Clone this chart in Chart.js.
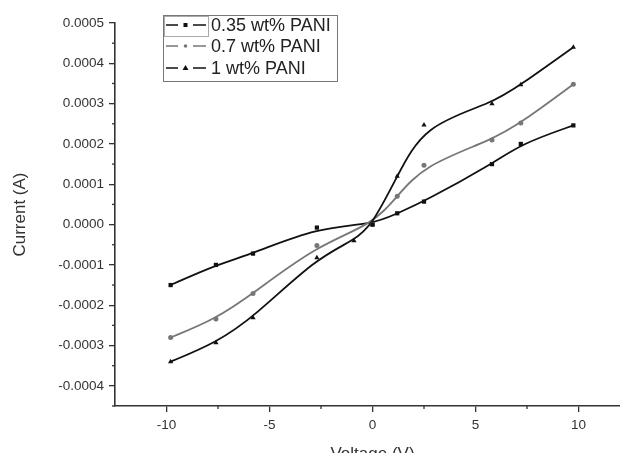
<!DOCTYPE html>
<html lang="en">
<head>
<meta charset="UTF-8">
<title>I-V curves PANI</title>
<script src="https://cdn.jsdelivr.net/npm/chart.js@4/dist/chart.umd.min.js"></script>
<style>
  html, body { margin: 0; padding: 0; background: #fff; overflow: hidden; }
  .wrap { position: relative; width: 640px; height: 453px; }
</style>
</head>
<body>
<div class="wrap"><canvas id="chart"></canvas></div>
<script>
// Data
const labels = ['0.35 wt% PANI', '0.7 wt% PANI', '1 wt% PANI'];

const voltA = [-9.8, -7.6, -5.8, -2.7, 0, 1.2, 2.5, 5.8, 7.2, 9.75];
const currA = [-0.00015, -0.0001, -0.000072, -0.0000075, 0, 0.000028, 0.000057, 0.00015, 0.0002, 0.000246];

const voltB = [-9.8, -7.6, -5.8, -2.7, 0, 1.2, 2.5, 5.8, 7.2, 9.75];
const currB = [-0.00028, -0.000234, -0.000171, -0.000052, 0, 0.00007, 0.000147, 0.00021, 0.000252, 0.000348];

const voltC = [-9.8, -7.6, -5.8, -2.7, -0.9, 0, 1.2, 2.5, 5.8, 7.2, 9.75];
const currC = [-0.00034, -0.000293, -0.000231, -0.000082, -0.00004, 0, 0.00012, 0.000247, 0.0003, 0.000347, 0.00044];

const xTicks = [-10, -5, 0, 5, 10];
const yTicks = [-0.0004, -0.0003, -0.0002, -0.0001, 0, 0.0001, 0.0002, 0.0003, 0.0004, 0.0005];

const colors = ['#111', '#777', '#111'];
const markers = ['rect', 'circle', 'triangle'];

function pts(xs, ys) {
  return xs.map((x, i) => ({ x: x, y: ys[i] }));
}

// Origin-style B-spline through control points (clamped ends)
const bspline = {
  id: 'bspline',
  beforeDatasetsDraw(chart) {
    const ctx = chart.ctx;
    const xs = chart.scales.x, ys = chart.scales.y;
    ctx.save();
    chart.data.datasets.forEach(ds => {
      const p = ds.data.map(d => [xs.getPixelForValue(d.x), ys.getPixelForValue(d.y)]);
      const q = [p[0], p[0]].concat(p, [p[p.length - 1], p[p.length - 1]]);
      ctx.beginPath();
      ctx.strokeStyle = ds.borderColor;
      ctx.lineWidth = 1.8;
      for (let i = 0; i + 3 < q.length; i++) {
        const [a, b, c, d] = [q[i], q[i + 1], q[i + 2], q[i + 3]];
        const s = [(a[0] + 4 * b[0] + c[0]) / 6, (a[1] + 4 * b[1] + c[1]) / 6];
        const c1 = [(2 * b[0] + c[0]) / 3, (2 * b[1] + c[1]) / 3];
        const c2 = [(b[0] + 2 * c[0]) / 3, (b[1] + 2 * c[1]) / 3];
        const e = [(b[0] + 4 * c[0] + d[0]) / 6, (b[1] + 4 * c[1] + d[1]) / 6];
        if (i === 0) ctx.moveTo(s[0], s[1]);
        ctx.bezierCurveTo(c1[0], c1[1], c2[0], c2[1], e[0], e[1]);
      }
      ctx.stroke();
    });
    ctx.restore();
  }
};

// minor ticks + legend box
const extras = {
  id: 'extras',
  afterDraw(chart) {
    const ctx = chart.ctx;
    const xs = chart.scales.x, ys = chart.scales.y;
    const area = chart.chartArea;
    ctx.save();
    ctx.strokeStyle = '#333';
    ctx.lineWidth = 1.3;
    [-7.5, -2.5, 2.5, 7.5].forEach(v => {
      const px = xs.getPixelForValue(v);
      ctx.beginPath(); ctx.moveTo(px, area.bottom); ctx.lineTo(px, area.bottom + 3); ctx.stroke();
    });
    for (let k = -9; k <= 9; k += 2) {
      const py = ys.getPixelForValue(k * 0.00005);
      ctx.beginPath(); ctx.moveTo(area.left, py); ctx.lineTo(area.left - 3, py); ctx.stroke();
    }

    // legend
    const lx = 163, ly = 15, lw = 174, lh = 66;
    ctx.strokeStyle = '#777';
    ctx.lineWidth = 1;
    ctx.strokeRect(lx + 0.5, ly + 0.5, lw, lh);
    ctx.strokeStyle = '#aaa';
    ctx.strokeRect(lx + 1.5, ly + 1.5, 44, 20);
    const rows = [25, 46, 68];
    ctx.font = '18px "Liberation Sans", Arial, sans-serif';
    ctx.textBaseline = 'middle';
    chart.data.datasets.forEach((ds, i) => {
      const y = rows[i];
      ctx.strokeStyle = ds.borderColor;
      ctx.lineWidth = 1.6;
      ctx.beginPath(); ctx.moveTo(166, y); ctx.lineTo(178, y); ctx.moveTo(193, y); ctx.lineTo(206, y); ctx.stroke();
      ctx.fillStyle = ds.borderColor;
      const cx = 185.5;
      if (markers[i] === 'rect') ctx.fillRect(cx - 2, y - 2, 4, 4);
      else if (markers[i] === 'circle') { ctx.beginPath(); ctx.arc(cx, y, 1.8, 0, Math.PI * 2); ctx.fill(); }
      else { ctx.beginPath(); ctx.moveTo(cx, y - 3); ctx.lineTo(cx + 3, y + 2); ctx.lineTo(cx - 3, y + 2); ctx.closePath(); ctx.fill(); }
      ctx.fillStyle = '#222';
      ctx.fillText(ds.label, 211, y + 1);
    });
    ctx.restore();
  }
};

const datasets = [pts(voltA, currA), pts(voltB, currB), pts(voltC, currC)].map((d, i) => ({
  label: labels[i],
  data: d,
  showLine: false,
  borderColor: colors[i],
  backgroundColor: colors[i],
  pointStyle: markers[i],
  pointRadius: i === 1 ? 2.5 : 3,
  pointBorderWidth: 0
}));

new Chart(document.getElementById('chart'), {
  type: 'scatter',
  data: { datasets: datasets },
  options: {
    responsive: true,
    maintainAspectRatio: false,
    animation: false,
    layout: { padding: { top: 23, right: 10, left: 0, bottom: 0 } },
    plugins: { legend: { display: false }, tooltip: { enabled: false } },
    scales: {
      x: {
        min: -12.5, max: 12.5,
        afterBuildTicks: s => { s.ticks = xTicks.map(v => ({ value: v })); },
        afterFit: s => { s.height = 47; },
        border: { color: '#333', width: 1.6 },
        grid: { drawOnChartArea: false, drawTicks: true, tickLength: 6, color: '#333', lineWidth: 1.3 },
        ticks: { color: '#333', padding: 5, font: { family: 'Liberation Sans', size: 13.5 }, maxRotation: 0 },
        title: { display: true, text: 'Voltage (V)', color: '#333', font: { family: 'Liberation Sans', size: 17 }, padding: { top: 0, bottom: -12 } }
      },
      y: {
        min: -0.00045, max: 0.0005,
        afterBuildTicks: s => { s.ticks = yTicks.map(v => ({ value: v })); },
        afterFit: s => { s.width = 115; },
        border: { color: '#333', width: 1.6 },
        grid: { drawOnChartArea: false, drawTicks: true, tickLength: 6, color: '#333', lineWidth: 1.3 },
        ticks: {
          color: '#333', padding: 5, font: { family: 'Liberation Sans', size: 13.5 },
          callback: v => v.toFixed(4)
        },
        title: { display: true, text: 'Current (A)', color: '#333', font: { family: 'Liberation Sans', size: 17 }, padding: { top: 10, bottom: 0 } }
      }
    }
  },
  plugins: [bspline, extras]
});
</script>
</body>
</html>
